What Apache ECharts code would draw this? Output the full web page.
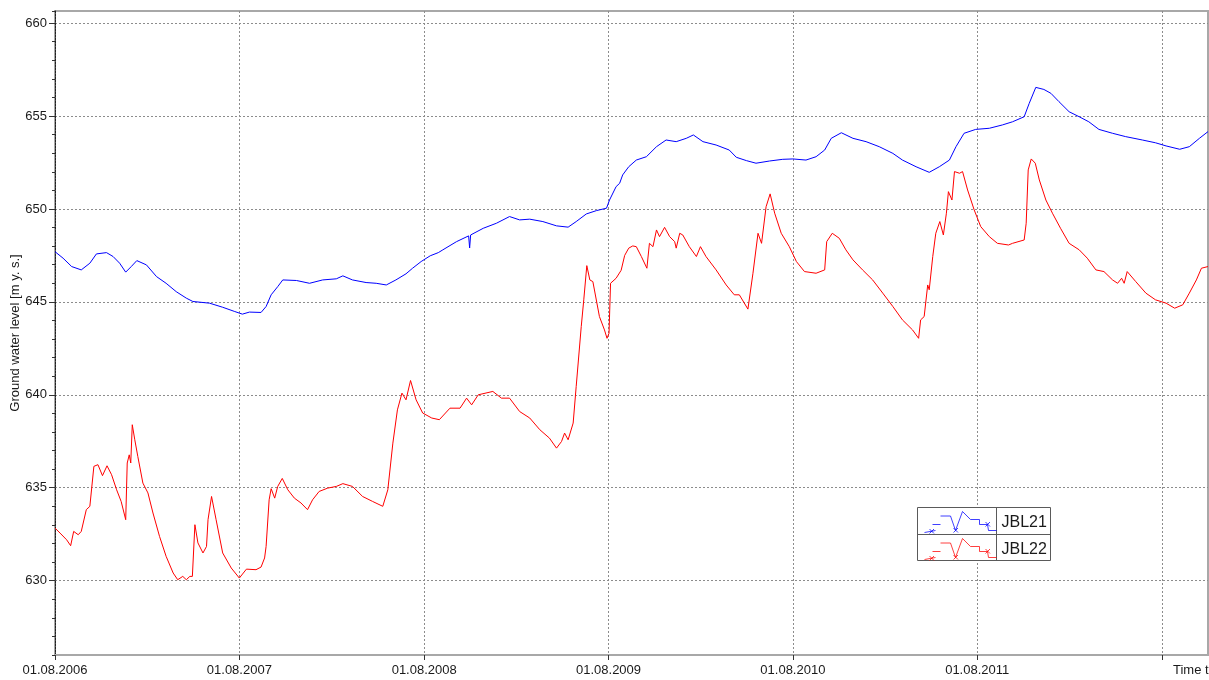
<!DOCTYPE html>
<html>
<head>
<meta charset="utf-8">
<title>Ground water level JBL21 / JBL22</title>
<script src="https://cdn.jsdelivr.net/npm/echarts@6/dist/echarts.min.js"></script>
<style>
  html, body { margin: 0; padding: 0; background: #ffffff; }
  #chart { width: 1209px; height: 680px; }
</style>
</head>
<body>
<div id="chart"></div>
<script>
// Measurement dates and levels [m a.s.l.] for borehole JBL21
const dates21 = [
  '2006-08-01','2006-08-17','2006-09-03','2006-09-22','2006-10-09','2006-10-22','2006-11-11','2006-11-24','2006-12-07','2006-12-19','2006-12-30',
  '2007-01-10','2007-01-29','2007-02-18','2007-03-09','2007-03-29','2007-04-18','2007-05-01','2007-06-03','2007-06-29','2007-07-23',
  '2007-08-07','2007-08-21','2007-09-13','2007-09-23','2007-10-03','2007-10-16','2007-10-26','2007-11-22','2007-12-18',
  '2008-01-13','2008-02-09','2008-02-22','2008-03-12','2008-04-08','2008-04-28','2008-05-18','2008-06-06','2008-06-26','2008-07-09','2008-07-26',
  '2008-08-13','2008-08-29','2008-09-07','2008-10-04','2008-10-28','2008-10-30','2008-11-01','2008-11-26','2008-12-22',
  '2009-01-17','2009-02-06','2009-02-26','2009-03-24','2009-04-20','2009-05-13','2009-05-29','2009-06-18','2009-07-08','2009-07-28',
  '2009-08-03','2009-08-16','2009-08-23','2009-08-29','2009-09-10','2009-09-25','2009-10-15','2009-11-04','2009-11-23','2009-12-13',
  '2010-01-02','2010-01-16','2010-02-04','2010-03-02','2010-03-28','2010-04-11','2010-05-01','2010-05-20','2010-06-16','2010-07-12',
  '2010-08-01','2010-08-27','2010-09-16','2010-10-03','2010-10-16','2010-11-05','2010-11-28','2010-12-24',
  '2011-01-19','2011-02-15','2011-03-06','2011-04-02','2011-04-28','2011-05-18','2011-06-07','2011-06-20','2011-07-06','2011-07-29',
  '2011-08-25','2011-09-20','2011-10-10','2011-11-02','2011-11-12','2011-11-25','2011-12-11','2011-12-25',
  '2012-01-10','2012-01-30','2012-02-19','2012-03-09','2012-03-29','2012-04-25','2012-05-21','2012-06-23','2012-07-19',
  '2012-08-09','2012-09-05','2012-09-24','2012-10-14','2012-10-31'
];
const level21 = [
  647.70,647.35,646.90,646.72,647.08,647.58,647.65,647.44,647.08,646.60,646.90,
  647.22,646.99,646.36,646.00,645.55,645.20,645.02,644.93,644.71,644.48,
  644.34,644.45,644.43,644.75,645.38,645.82,646.18,646.15,646.00,
  646.18,646.24,646.40,646.18,646.04,646.00,645.91,646.18,646.51,646.81,647.17,
  647.48,647.65,647.80,648.24,648.55,647.90,648.60,648.96,649.23,
  649.59,649.41,649.45,649.32,649.09,649.02,649.32,649.73,649.91,650.04,
  650.48,651.20,651.38,651.83,652.27,652.63,652.81,653.35,653.71,653.62,
  653.80,653.98,653.62,653.44,653.17,652.78,652.60,652.46,652.58,652.67,
  652.69,652.63,652.81,653.17,653.80,654.10,653.80,653.62,
  653.35,652.99,652.63,652.27,651.97,652.27,652.63,653.35,654.07,654.28,
  654.34,654.52,654.69,654.96,655.68,656.54,656.43,656.22,
  655.77,655.23,654.96,654.69,654.28,654.07,653.89,653.71,653.56,
  653.39,653.21,653.35,653.80,654.16
];

// Measurement dates and levels [m a.s.l.] for borehole JBL22
const dates22 = [
  '2006-08-01','2006-08-11','2006-08-24','2006-09-01','2006-09-07','2006-09-16','2006-09-22','2006-10-02','2006-10-09','2006-10-17','2006-10-25',
  '2006-11-03','2006-11-12','2006-11-21','2006-12-01','2006-12-10','2006-12-19','2006-12-22','2006-12-26','2006-12-29',
  '2007-01-01','2007-01-06','2007-01-12','2007-01-22','2007-02-01','2007-02-11','2007-02-24','2007-03-09','2007-03-23',
  '2007-04-01','2007-04-11','2007-04-18','2007-04-25','2007-04-30','2007-05-05','2007-05-11','2007-05-21','2007-05-28','2007-05-31',
  '2007-06-07','2007-06-16','2007-06-29','2007-07-16',
  '2007-08-01','2007-08-15','2007-09-03','2007-09-13','2007-09-20','2007-09-23','2007-09-29','2007-10-03','2007-10-10','2007-10-16','2007-10-25',
  '2007-11-05','2007-11-18','2007-12-01','2007-12-14','2007-12-24',
  '2008-01-06','2008-01-23','2008-02-09','2008-02-22','2008-03-12','2008-04-01','2008-04-21','2008-05-11','2008-05-21','2008-05-31',
  '2008-06-09','2008-06-18','2008-06-26','2008-07-05','2008-07-16','2008-07-29',
  '2008-08-16','2008-08-31','2008-09-21','2008-10-11','2008-10-24','2008-11-03','2008-11-16','2008-12-15',
  '2009-01-01','2009-01-17','2009-02-06','2009-02-26','2009-03-18','2009-04-06','2009-04-20','2009-04-30','2009-05-06','2009-05-13','2009-05-23','2009-05-29',
  '2009-06-08','2009-06-13','2009-06-19','2009-06-25','2009-07-01','2009-07-14','2009-07-24','2009-07-29',
  '2009-08-02','2009-08-05','2009-08-16','2009-08-26','2009-09-02','2009-09-10','2009-09-18','2009-09-25','2009-10-05','2009-10-16','2009-10-21','2009-10-28',
  '2009-11-04','2009-11-10','2009-11-20','2009-11-30','2009-12-10','2009-12-13','2009-12-20','2009-12-26',
  '2010-01-08','2010-01-22','2010-01-30','2010-02-10','2010-03-02','2010-03-22','2010-04-07','2010-04-17','2010-05-04','2010-05-14','2010-05-24','2010-05-31',
  '2010-06-09','2010-06-17','2010-06-26','2010-07-09','2010-07-25',
  '2010-08-08','2010-08-24','2010-09-16','2010-10-03','2010-10-07','2010-10-18','2010-11-01','2010-11-14','2010-11-28','2010-12-17',
  '2011-01-06','2011-01-26','2011-02-15','2011-03-06','2011-03-26','2011-04-07','2011-04-11','2011-04-18','2011-04-25','2011-04-28',
  '2011-05-05','2011-05-11','2011-05-19','2011-05-26','2011-06-01','2011-06-05','2011-06-12','2011-06-17','2011-06-27','2011-07-03','2011-07-13','2011-07-26',
  '2011-08-08','2011-08-25','2011-09-10','2011-10-02','2011-10-10','2011-11-02','2011-11-06','2011-11-10','2011-11-16','2011-11-24','2011-12-02','2011-12-15','2011-12-28',
  '2012-01-13','2012-01-30','2012-02-19','2012-03-06','2012-03-23','2012-04-08','2012-04-25','2012-05-05','2012-05-13','2012-05-18','2012-05-24','2012-06-10','2012-06-30','2012-07-19',
  '2012-08-09','2012-08-26','2012-09-11','2012-09-24','2012-10-08','2012-10-18','2012-10-31'
];
const level22 = [
  632.83,632.56,632.20,631.88,632.65,632.47,632.65,633.82,634.00,636.15,636.24,
  635.65,636.18,635.70,634.89,634.26,633.28,636.33,636.77,636.33,
  638.39,637.58,636.68,635.25,634.72,633.64,632.38,631.31,630.41,
  630.05,630.23,630.05,630.23,630.23,633.01,632.03,631.49,631.84,633.28,
  634.53,633.28,631.49,630.68,
  630.14,630.62,630.59,630.73,631.22,631.84,634.35,634.95,634.44,635.07,635.50,
  634.89,634.44,634.18,633.82,634.35,
  634.80,634.98,635.07,635.22,635.07,634.53,634.26,634.00,634.89,637.40,
  639.19,640.09,639.73,640.77,639.73,639.02,
  638.75,638.66,639.28,639.28,639.82,639.46,640.00,640.18,
  639.82,639.82,639.10,638.75,638.12,637.67,637.13,637.49,637.94,637.58,638.48,640.45,
  643.67,645.11,646.95,646.18,646.09,644.21,643.49,643.04,
  643.31,646.00,646.27,646.70,647.50,647.89,648.01,647.97,647.44,646.81,648.15,647.97,
  648.87,648.51,649.01,648.51,648.24,647.89,648.69,648.60,
  647.97,647.44,647.97,647.44,646.72,645.91,645.38,645.38,644.61,646.54,648.69,648.15,
  650.12,650.81,649.77,648.69,647.97,
  647.17,646.63,646.54,646.72,648.24,648.69,648.42,647.80,647.26,646.72,
  646.18,645.47,644.75,644.03,643.49,643.04,644.03,644.21,645.91,645.65,
  647.44,648.69,649.32,648.60,649.77,650.93,650.48,652.01,651.92,652.01,651.02,649.95,
  649.05,648.51,648.15,648.06,648.15,648.33,649.23,652.10,652.69,652.46,651.56,650.48,649.77,
  648.96,648.15,647.80,647.35,646.72,646.63,646.18,646.00,646.27,646.00,646.63,646.09,645.47,645.11,
  644.93,644.66,644.84,645.47,646.18,646.81,646.90
];

const seriesNames = ['JBL21', 'JBL22'];
const seriesColors = ['#0000ff', '#ff0000'];

// Axis ticks
const yearTicks = ['2006-08-01','2007-08-01','2008-08-01','2009-08-01','2010-08-01','2011-08-01','2012-08-01'];
const yearLabels = ['2006-08-01','2007-08-01','2008-08-01','2009-08-01','2010-08-01','2011-08-01'];
const yTicks = [630, 635, 640, 645, 650, 655, 660];
const xStart = '2006-08-01';
const xEnd = '2012-10-31';
const yMin = 626;
const yMax = 660.65;

const toTime = s => Date.parse(s + 'T00:00:00Z');
const pad2 = n => (n < 10 ? '0' : '') + n;
const fmtDate = v => {
  const d = new Date(v);
  return pad2(d.getUTCDate()) + '.' + pad2(d.getUTCMonth() + 1) + '.' + d.getUTCFullYear();
};
const zip = (ds, vs) => ds.map((d, i) => [toTime(d), vs[i]]);

// Zig-zag sample line with cross markers used as legend key
const legendKey = 'path://M0,22 L11,20 M8,14 L16,14 M16,5.5 L26,5.5 L31,20 L38,1 L46,9 L55,9 L55,14 L63,14 L64,20 L72,20 ' +
  'M5,18.5 L9.5,23 M9.5,18.5 L5,23 M29,17.5 L33.5,22 M33.5,17.5 L29,22 M61,11.5 L65.5,16 M65.5,11.5 L61,16';

const FONT = "'Liberation Sans', Arial, sans-serif";
const gridDash = { color: '#8c8c8c', width: 1, type: [2, 2] };

const chart = echarts.init(document.getElementById('chart'), null, { renderer: 'canvas' });

chart.setOption({
  animation: false,
  backgroundColor: '#ffffff',
  textStyle: { fontFamily: FONT },
  grid: {
    left: 55, top: 11, right: 1, bottom: 25,
    outerBoundsMode: 'none',
    containLabel: false,
    show: true, borderColor: '#a8a8a8', borderWidth: 2, backgroundColor: 'transparent'
  },
  xAxis: {
    type: 'value',
    min: toTime(xStart),
    max: toTime(xEnd),
    name: 'Time t',
    nameLocation: 'end',
    nameGap: -35,
    nameMoveOverlap: false,
    nameTextStyle: { color: '#1a1a1a', fontSize: 13, fontFamily: FONT, verticalAlign: 'top', padding: [9, 0, 0, 0] },
    axisLine: { show: true, lineStyle: { color: '#a8a8a8', width: 2 } },
    axisTick: {
      show: true, length: 5, inside: false,
      customValues: yearTicks.map(toTime),
      lineStyle: { color: '#333333', width: 1 }
    },
    axisLabel: {
      show: true, margin: 9, color: '#1a1a1a', fontSize: 13, fontFamily: FONT,
      customValues: yearLabels.map(toTime),
      formatter: v => fmtDate(v),
      hideOverlap: false
    },
    splitLine: { show: true, lineStyle: gridDash }
  },
  yAxis: [
    {
      type: 'value',
      min: yMin,
      max: yMax,
      name: 'Ground water level [m y. s.]',
      nameLocation: 'middle',
      nameGap: 33,
      nameRotate: 90,
      nameMoveOverlap: false,
      nameTextStyle: { color: '#1a1a1a', fontSize: 13, fontFamily: FONT },
      axisLine: { show: true, lineStyle: { color: '#222222', width: 1, type: [2, 1] } },
      axisTick: {
        show: true, length: 6, inside: false,
        customValues: yTicks,
        lineStyle: { color: '#333333', width: 1 }
      },
      axisLabel: {
        show: true, margin: 8, color: '#1a1a1a', fontSize: 13, fontFamily: FONT,
        customValues: yTicks
      },
      splitLine: { show: true, lineStyle: gridDash }
    },
    {
      // unit ticks between the labelled levels
      type: 'value',
      min: yMin,
      max: yMax,
      interval: 1,
      position: 'left',
      axisLine: { show: false },
      axisTick: { show: true, length: 3, lineStyle: { color: '#333333', width: 1 } },
      axisLabel: { show: false },
      splitLine: { show: false }
    }
  ],
  legend: {
    orient: 'vertical',
    left: 922,
    top: 509,
    padding: 0,
    itemGap: 0,
    itemWidth: 72,
    itemHeight: 22,
    selectedMode: false,
    icon: legendKey,
    textStyle: { color: '#1a1a1a', fontSize: 16, fontFamily: FONT, padding: [0, 0, 0, 0] },
    data: seriesNames.map((n, i) => ({
      name: n,
      icon: legendKey,
      itemStyle: { color: 'none', borderColor: seriesColors[i], borderWidth: 1, opacity: 0.75 }
    }))
  },
  graphic: [
    {
      type: 'rect', z: 3,
      shape: { x: 917.5, y: 507.5, width: 133, height: 53 },
      style: { fill: '#ffffff', stroke: '#5a5a5a', lineWidth: 1 }
    },
    {
      type: 'line', z: 3,
      shape: { x1: 917.5, y1: 534.5, x2: 1050.5, y2: 534.5 },
      style: { stroke: '#5a5a5a', lineWidth: 1 }
    },
    {
      type: 'line', z: 3,
      shape: { x1: 996.5, y1: 507.5, x2: 996.5, y2: 560.5 },
      style: { stroke: '#5a5a5a', lineWidth: 1 }
    }
  ],
  series: [
    {
      name: seriesNames[0],
      type: 'line',
      yAxisIndex: 0,
      data: zip(dates21, level21),
      showSymbol: false,
      symbol: 'none',
      color: seriesColors[0],
      lineStyle: { color: seriesColors[0], width: 1 },
      z: 2
    },
    {
      name: seriesNames[1],
      type: 'line',
      yAxisIndex: 0,
      data: zip(dates22, level22),
      showSymbol: false,
      symbol: 'none',
      color: seriesColors[1],
      lineStyle: { color: seriesColors[1], width: 1 },
      z: 2
    }
  ]
});
</script>
</body>
</html>
